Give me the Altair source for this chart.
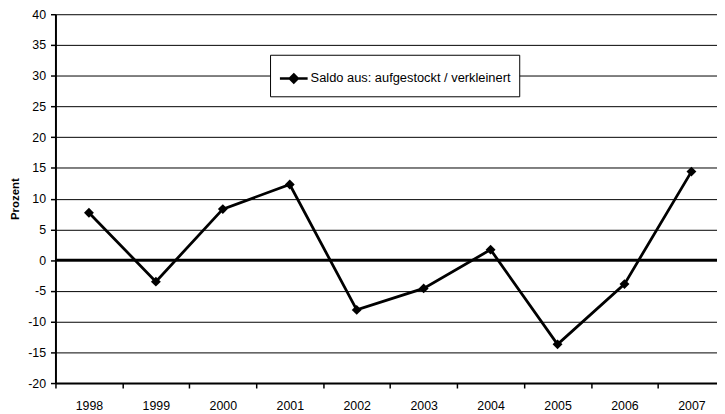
import altair as alt
import pandas as pd

# ---- data ----
years = [1998, 1999, 2000, 2001, 2002, 2003, 2004, 2005, 2006, 2007]
saldo = [7.7, -3.5, 8.3, 12.3, -8.1, -4.6, 1.7, -13.7, -3.9, 14.4]
series_name = "Saldo aus: aufgestockt / verkleinert"
y_ticks = [-20, -15, -10, -5, 0, 5, 10, 15, 20, 25, 30, 35, 40]
x_boundaries = [1997.5, 1998.5, 1999.5, 2000.5, 2001.5, 2002.5, 2003.5, 2004.5, 2005.5, 2006.5]
zero_line = [0]

df = pd.DataFrame({"year": years, "saldo": saldo, "series": [series_name] * len(years)})
zero_df = pd.DataFrame({"y": zero_line})

FONT = "Liberation Sans"

xscale = alt.Scale(domain=[1997.5, 2007.382], nice=False, zero=False)
yscale = alt.Scale(domain=[-20, 40], nice=False, zero=False)

xaxis = alt.Axis(
    values=x_boundaries,
    labelExpr="floor(datum.value) + 1",
    labelOffset=33.85,
    labelFlush=False,
    labelOverlap=False,
    grid=False,
    tickSize=5,
    tickColor="black",
    tickWidth=1.5,
    domainColor="black",
    domainWidth=2,
    labelPadding=12,
    labelFont=FONT,
    labelFontSize=12.5,
    labelColor="black",
    title=None,
)

yaxis = alt.Axis(
    values=y_ticks,
    labelExpr="datum.value + ''",
    grid=True,
    gridColor="black",
    gridWidth=1,
    tickSize=5,
    tickColor="black",
    tickWidth=1.5,
    domainColor="black",
    domainWidth=2,
    labelPadding=5,
    labelFont=FONT,
    labelFontSize=12.5,
    labelColor="black",
    title="Prozent",
    titleFont=FONT,
    titleFontSize=11.5,
    titleFontWeight="bold",
    titleColor="black",
    titleX=-40,
    titleY=186.5,
    titleAngle=270,
    titleAlign="center",
    titleBaseline="middle",
)

line = alt.Chart(df).mark_line(color="black", strokeWidth=2.8).encode(
    x=alt.X("year:Q", scale=xscale, axis=xaxis),
    y=alt.Y("saldo:Q", scale=yscale, axis=yaxis),
)

rule = alt.Chart(zero_df).mark_rule(color="black", strokeWidth=3).encode(
    y=alt.Y("y:Q", scale=yscale, axis=yaxis),
)

legend = alt.Legend(
    orient="none",
    legendX=217,
    legendY=41,
    title=None,
    fillColor="white",
    strokeColor="black",
    padding=8,
    symbolType="M-0.966,0L0.966,0M0,-0.28L0.28,0L0,0.28L-0.28,0Z",
    symbolSize=841,
    symbolStrokeWidth=2.5,
    symbolFillColor="black",
    symbolStrokeColor="black",
    symbolOpacity=1,
    labelOffset=1,
    labelLimit=400,
    labelFont=FONT,
    labelFontSize=13,
    labelColor="black",
)

points = alt.Chart(df).mark_point(shape="diamond", filled=True, size=100, opacity=1).encode(
    x=alt.X("year:Q", scale=xscale, axis=xaxis),
    y=alt.Y("saldo:Q", scale=yscale, axis=yaxis),
    color=alt.Color("series:N", scale=alt.Scale(range=["black"]), legend=legend),
)

chart = (
    alt.layer(line, rule, points)
    .properties(
        width=669,
        height=373,
        autosize=alt.AutoSizeParams(type="none"),
        padding={"left": 48, "top": 4, "right": 0, "bottom": 30},
        background="white",
    )
    .configure_view(strokeWidth=0)
)

chart.save("out.html", embed_options={"renderer": "svg", "actions": False})
